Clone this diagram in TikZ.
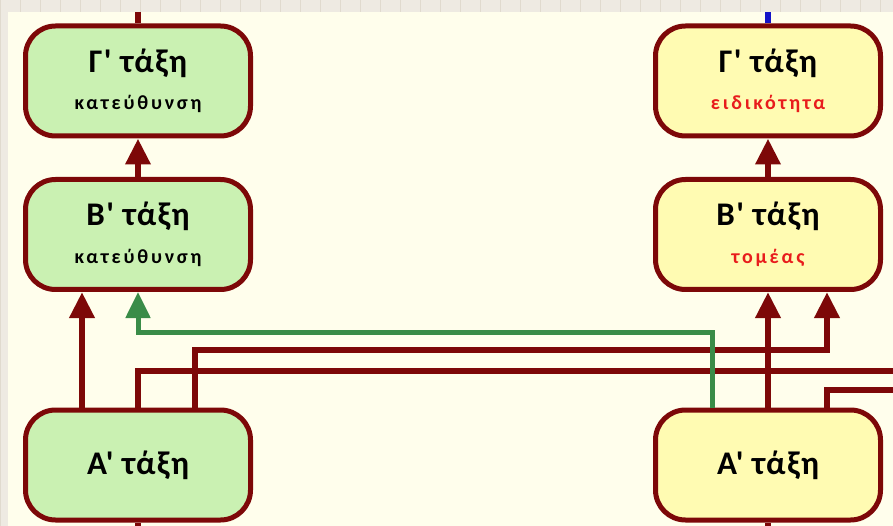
\documentclass[tikz,border=0pt]{standalone}
\usepackage{fontspec}
\setmainfont{Carlito}
\newfontfamily\klfont{Carlito}
\usetikzlibrary{arrows.meta}

\definecolor{cream}{RGB}{255,254,236}
\definecolor{gridbg}{RGB}{238,234,226}
\definecolor{gridln}{RGB}{224,218,206}
\definecolor{boxred}{RGB}{125,8,8}
\definecolor{boxgreen}{RGB}{202,241,178}
\definecolor{boxyellow}{RGB}{255,251,178}
\definecolor{pathgreen}{RGB}{58,140,72}
\definecolor{subred}{RGB}{232,28,28}
\definecolor{stubblue}{RGB}{20,20,200}

\newcommand{\titlos}[1]{{\klfont\bfseries\fontsize{33}{36}\selectfont\addfontfeatures{LetterSpace=4}#1}}
\newcommand{\ypotitlos}[1]{{\klfont\bfseries\fontsize{20}{22}\selectfont\addfontfeatures{LetterSpace=14}#1}}

\begin{document}
\begin{tikzpicture}[x=1pt,y=-1pt,
    klasi/.style={draw=boxred, line width=5pt, rounded corners=30pt,
        minimum width=225pt, minimum height=110pt, align=center, inner sep=0pt},
    redline/.style={draw=boxred, line width=6.5pt},
    greenline/.style={draw=pathgreen, line width=5pt},
    uparrow/.style={-{Triangle[width=24pt,length=26pt]}}]
    \useasboundingbox (0,0) rectangle (893,526);
    % background of the slide
    \fill[gridbg] (0,0) rectangle (893,526);
    \draw[gridln, line width=1pt] (0,0) grid[step=20] (893,526);
    \fill[cream] (8,12) rectangle (893,526);

    % left column
    \node[klasi, fill=boxgreen] (gL) at (138,81) {\titlos{Γ' τάξη}\\[17pt]\ypotitlos{κατεύθυνση}};
    \node[klasi, fill=boxgreen] (bL) at (138,234.5) {\titlos{Β' τάξη}\\[17pt]\ypotitlos{κατεύθυνση}};
    \node[klasi, fill=boxgreen] (aL) at (138,465) {\titlos{Α' τάξη}};
    % right column
    \node[klasi, fill=boxyellow] (gR) at (768,81) {\titlos{Γ' τάξη}\\[17pt]\ypotitlos{\color{subred}ειδικότητα}};
    \node[klasi, fill=boxyellow] (bR) at (768,234.5) {\titlos{Β' τάξη}\\[17pt]\ypotitlos{\color{subred}τομέας}};
    \node[klasi, fill=boxyellow] (aR) at (768,465) {\titlos{Α' τάξη}};

    \coordinate (topL) at (138,12);
    \coordinate (topR) at (768,12);
    \coordinate (botL) at (138,526);
    \coordinate (botR) at (768,526);
    \coordinate (exitA) at (893,371);
    \coordinate (exitB) at (893,390);

    % stubs cut by the edge
    \draw[redline] (gL.north) -- (topL);
    \draw[stubblue, line width=6pt] (gR.north) -- (topR);
    \draw[redline] (aL.south) -- (botL);
    \draw[redline] (aR.south) -- (botR);

    % from class to class
    \draw[redline, uparrow] (bL.north) -- (gL.south);
    \draw[redline, uparrow] (bR.north) -- (gR.south);
    \draw[redline, uparrow] ([xshift=-56pt]aL.north) -- ([xshift=-56pt]bL.south);
    \draw[redline] (aL.north) |- (exitA);
    \draw[redline, uparrow] ([xshift=57pt]aL.north) |- ([xshift=59pt,yshift=-58pt]bR.south) -- ([xshift=59pt]bR.south);
    \draw[redline, uparrow] (aR.north) -- (bR.south);
    \draw[redline] ([xshift=59pt]aR.north) |- (exitB);
    \draw[greenline, uparrow] ([xshift=-56pt]aR.north) |- ([yshift=-40pt]bL.south) -- (bL.south);
\end{tikzpicture}
\end{document}
